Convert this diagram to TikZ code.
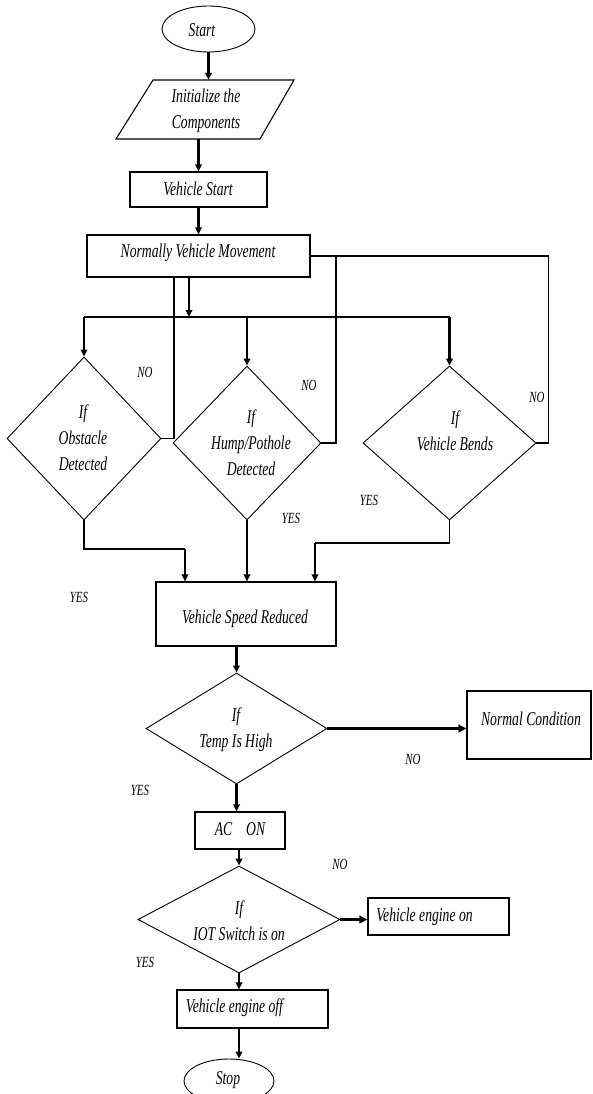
\documentclass[tikz,border=0pt]{standalone}
\usepackage{fontspec}
\newfontfamily\cond{Liberation Serif}[FakeStretch=0.7]
\usetikzlibrary{shapes.geometric,arrows.meta}
\begin{document}
\begin{tikzpicture}[x=1pt,y=-1pt,
  box/.style={draw, line width=1.1pt, inner sep=0pt},
  ell/.style={draw, ellipse, line width=0.9pt, inner sep=0pt},
  diam/.style={draw, diamond, line width=0.9pt, inner sep=0pt},
  txt/.style={font=\cond\itshape\fontsize{19.5}{26}\selectfont, align=center, inner sep=0pt},
  lab/.style={font=\cond\itshape\fontsize{15.5}{18}\selectfont, inner sep=0pt},
  arr/.style={-{Triangle[length=7pt,width=6.5pt]}, line width=2.2pt},
  arrthick/.style={-{Triangle[length=8pt,width=7.5pt]}, line width=3pt},
  ln/.style={line width=1.1pt}]
\useasboundingbox (0,0) rectangle (592,1094);
% nodes
\node[ell, minimum width=93, minimum height=46] (start) at (208.5,29) {};
\node[txt] (tstart) at (202,30) {Start};
\node[draw=none, minimum width=141, minimum height=59, inner sep=0pt] (init) at (205,109.5) {};
\draw[line width=1.1pt] (153,80) -- (294,80) -- (260,139) -- (116,139) -- cycle;
\node[txt] (tinit) at (206,110.5) {Initialize the\\Components};
\node[box, minimum width=137, minimum height=35] (vstart) at (198.5,189.5) {};
\node[txt] (tvstart) at (198,189) {Vehicle Start};
\node[box, minimum width=223, minimum height=42] (move) at (198.5,256) {};
\node[txt] (tmove) at (198,253) {Normally Vehicle Movement};
\node[diam, minimum width=154, minimum height=163] (d1) at (84,438.5) {};
\node[txt] (td1) at (83,438) {If\\Obstacle\\Detected};
\node[diam, minimum width=148, minimum height=154] (d2) at (247,443) {};
\node[txt] (td2) at (251,443) {If\\Hump/Pothole\\Detected};
\node[diam, minimum width=173, minimum height=154] (d3) at (449.5,443) {};
\node[txt] (td3) at (455,430.5) {If\\Vehicle Bends};
\node[box, minimum width=180, minimum height=64] (speed) at (246,614) {};
\node[txt] (tspeed) at (245,619) {Vehicle Speed Reduced};
\node[diam, minimum width=181, minimum height=111] (temp) at (236.5,728.5) {};
\node[txt] (ttemp) at (236,729.5) {If\\Temp Is High};
\node[box, minimum width=124, minimum height=68] (normal) at (529,725) {};
\node[txt] (tnormal) at (531,719) {Normal Condition};
\node[box, minimum width=90, minimum height=37] (acon) at (240,830.5) {};
\node[txt] (tacon) at (240,829) {AC\hspace{14pt}ON};
\node[diam, minimum width=202, minimum height=107] (iot) at (239,919.5) {};
\node[txt] (tiot) at (239,921) {If\\IOT Switch is on};
\node[box, minimum width=141, minimum height=37] (engon) at (438.5,916.5) {};
\node[txt] (tengon) at (424.5,917) {Vehicle engine on};
\node[box, minimum width=151, minimum height=38] (engoff) at (252.5,1009) {};
\node[txt] (tengoff) at (234.5,1008) {Vehicle engine off};
\node[ell, minimum width=90, minimum height=44] (stop) at (229,1081) {};
\node[txt] (tstop) at (228,1080) {Stop};
% labels
\node[lab] (n1) at (145,372) {NO};
\node[lab] (n2) at (309,385) {NO};
\node[lab] (n3) at (537,397) {NO};
\node[lab] (y1l) at (291,518) {YES};
\node[lab] (y2l) at (369,500) {YES};
\node[lab] (y3l) at (79,597) {YES};
\node[lab] (y4l) at (140,790) {YES};
\node[lab] (n4) at (413,759) {NO};
\node[lab] (n5) at (340,864) {NO};
\node[lab] (y5l) at (145,962) {YES};
% connectors
\draw[arr] (start.south) -- (start.south |- init.north);
\draw[arr] (vstart.north |- init.south) -- (vstart.north);
\draw[arr] (vstart.south) -- (move.north);
\draw[ln] (move.east) -- ++(238,0) |- (d3.east);
\coordinate (j2) at (336,256);
\draw[ln] (j2) |- (d2.east);
\coordinate (j1) at (174,277);
\draw[ln] (j1) |- (d1.east);
\coordinate (bus) at (189,317);
\draw[arr] (bus |- move.south) -- (bus);
\draw[ln] (d1.north |- bus) -- (d3.north |- bus);
\draw[arr] (d1.north |- bus) -- (d1.north);
\draw[arr] (d2.north |- bus) -- (d2.north);
\draw[arr] (d3.north |- bus) -- (d3.north);
\coordinate (c1) at (185,549);
\draw[ln] (d1.south) |- (c1);
\draw[arr] (c1) -- (c1 |- speed.north);
\draw[arr] (d2.south) -- (d2.south |- speed.north);
\coordinate (c3) at (315,543);
\draw[ln] (d3.south) |- (c3);
\draw[arr] (c3) -- (c3 |- speed.north);
\draw[arr] (temp.north |- speed.south) -- (temp.north);
\draw[arrthick] (temp.east) -- (temp.east -| normal.west);
\draw[arr] (temp.south) -- (temp.south |- acon.north);
\draw[arr] (iot.north |- acon.south) -- (iot.north);
\draw[arrthick] (iot.east) -- (iot.east -| engon.west);
\draw[arr] (iot.south) -- (iot.south |- engoff.north);
\draw[arr] (iot.south |- engoff.south) -- (iot.south |- stop.north);
\end{tikzpicture}
\end{document}
